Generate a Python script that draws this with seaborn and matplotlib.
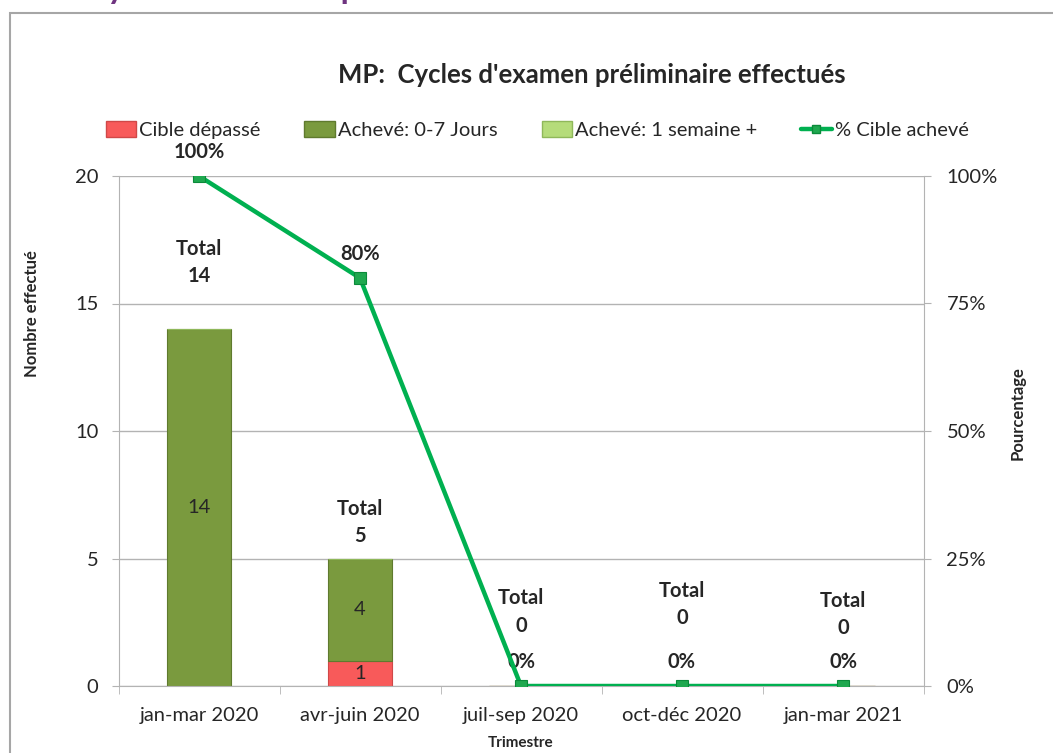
import matplotlib.pyplot as plt
import matplotlib.patches as mpatches
import matplotlib.lines as mlines
import numpy as np
import seaborn as sns

trimestres = ["jan-mar 2020", "avr-juin 2020", "juil-sep 2020", "oct-déc 2020", "jan-mar 2021"]
cible_depasse = [0, 1, 0, 0, 0]
acheve_0_7 = [14, 4, 0, 0, 0]
acheve_1sem = [0, 0, 0, 0, 0]
pct_cible = [100, 80, 0, 0, 0]

# manual label placement (in data units of the left axis), like the Excel sheet
total_label_y = [16.6, 6.4, 2.9, 3.2, 2.8]

RED = "#f85a5a"
OLIVE = "#7a9a3e"
LIGHT = "#b5dc7a"
LINE = "#00b050"
GRID = "#b3b3b3"
FS = 14.5

sns.set_style("white")
plt.rcParams["font.family"] = ["Lato", "DejaVu Sans"]

fig = plt.figure(figsize=(10.53, 7.53), dpi=100)
ax = fig.add_axes([118.5 / 1053, 67 / 753, 805 / 1053, 510 / 753])

dep = np.array(cible_depasse)
a07 = np.array(acheve_0_7)
a1s = np.array(acheve_1sem)
tot = dep + a07 + a1s

sns.barplot(x=trimestres, y=dep, color=RED, width=0.4, ax=ax, saturation=1,
            edgecolor="#d04848", linewidth=0.8)
sns.barplot(x=trimestres, y=a07, bottom=dep, color=OLIVE, width=0.4, ax=ax,
            saturation=1, edgecolor="#5f7a2e", linewidth=0.8)
sns.barplot(x=trimestres, y=a1s, bottom=dep + a07, color=LIGHT, width=0.4, ax=ax,
            saturation=1, edgecolor="#8fb85a", linewidth=0.8)

ax.set_xlim(-0.5, 4.5)
ax.set_ylim(0, 20)
ax.set_yticks([0, 5, 10, 15, 20])
ax.yaxis.grid(True, color=GRID, linewidth=1)
ax.set_axisbelow(True)
for s in ["top", "right"]:
    ax.spines[s].set_visible(False)
ax.spines["left"].set_color(GRID)
ax.spines["bottom"].set_color(GRID)
ax.tick_params(axis="y", direction="out", length=5, color=GRID, labelsize=FS, pad=9.5, left=True)
ax.set_xticks(np.arange(5))
ax.set_xticks(np.arange(-0.5, 5, 1), minor=True)
ax.tick_params(axis="x", which="major", length=0, labelsize=FS, pad=15)
ax.tick_params(axis="x", which="minor", direction="out", length=6, color=GRID, bottom=True)
ax.set_xlabel("Trimestre", fontsize=11, fontweight="bold", labelpad=9)
ax.set_ylabel("Nombre effectué", fontsize=12, fontweight="bold")
ax.yaxis.set_label_coords(-0.0975, 0.731)

# values inside the bar segments
for i in range(5):
    if dep[i] > 0:
        ax.text(i, dep[i] / 2, str(dep[i]), ha="center", va="center", fontsize=FS)
    if a07[i] > 0:
        ax.text(i, dep[i] + a07[i] / 2, str(a07[i]), ha="center", va="center", fontsize=FS)
    ax.text(i, total_label_y[i], f"Total\n{tot[i]}", ha="center", va="center",
            fontsize=FS, fontweight="bold", linespacing=1.45)

ax2 = ax.twinx()
sns.lineplot(x=np.arange(5), y=pct_cible, ax=ax2, color=LINE, linewidth=3.2,
             marker="s", markersize=8, markerfacecolor="#1fa84f",
             markeredgecolor="#0b8a3a", markeredgewidth=0.8, zorder=5)
ax2.set_ylim(0, 100)
ax2.set_yticks([0, 25, 50, 75, 100])
ax2.set_yticklabels([f"{v}%" for v in [0, 25, 50, 75, 100]])
for s in ["top", "left", "bottom"]:
    ax2.spines[s].set_visible(False)
ax2.spines["right"].set_color(GRID)
ax2.tick_params(axis="y", direction="out", length=5, color=GRID, labelsize=FS, pad=11.5, right=True)
ax2.set_ylabel("Pourcentage", fontsize=12, fontweight="bold")
ax2.yaxis.set_label_coords(1.1075, 0.535)
for i, v in enumerate(pct_cible):
    ax2.annotate(f"{v}%", (i, v), xytext=(0, 17), textcoords="offset points",
                 ha="center", va="center", fontsize=FS, fontweight="bold")

# chart frame and clipped page heading
fig.patches.append(mpatches.Rectangle((10 / 1053, -0.05), 1.1, 1 - 13 / 753 + 0.05,
                                      transform=fig.transFigure, fill=False,
                                      edgecolor="#a6a6a6", linewidth=1.5))
fig.text(85 / 1053, 1 + 0.5 / 753, "Cycles d'examen préliminaire effectués", fontsize=24,
         fontweight="bold", color="#6f3480", va="baseline", ha="left")

fig.text(592 / 1053, 1 - 75 / 753, "MP:  Cycles d'examen préliminaire effectués",
         fontsize=18.5, fontweight="bold", ha="center", va="center")

handles = [
    mpatches.Patch(facecolor=RED, edgecolor="#d04848"),
    mpatches.Patch(facecolor=OLIVE, edgecolor="#5f7a2e"),
    mpatches.Patch(facecolor=LIGHT, edgecolor="#8fb85a"),
    mlines.Line2D([], [], color=LINE, linewidth=3.2, marker="s", markersize=6,
                  markerfacecolor="#1fa84f", markeredgecolor="#0b8a3a"),
]
labels = ["Cible dépassé", "Achevé: 0-7 Jours", "Achevé: 1 semaine +", "% Cible achevé"]
fig.legend(handles, labels, loc="center", bbox_to_anchor=(537 / 1053, 1 - 130 / 753),
           ncol=4, frameon=False, fontsize=FS, handlelength=1.5, handletextpad=0.15,
           columnspacing=2.2, handleheight=0.8, borderaxespad=0, borderpad=0)

fig.savefig("out.png", dpi=100)
